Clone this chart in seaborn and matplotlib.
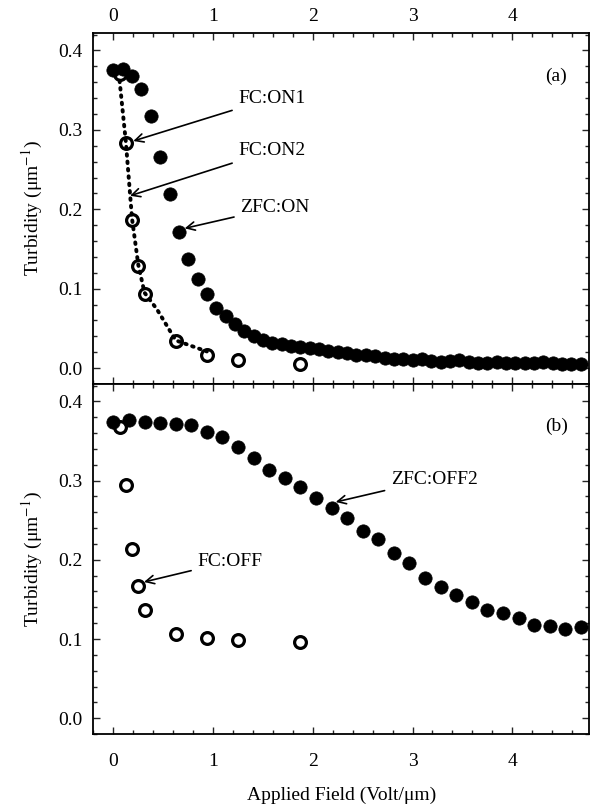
import numpy as np
import pandas as pd
import matplotlib
matplotlib.use("Agg")
from matplotlib import pyplot as plt
from matplotlib.ticker import MultipleLocator
import seaborn as sns

# %% Data
# panel (a) -- field switched on
zfc_on_x = [0.000, 0.094, 0.188, 0.281, 0.375, 0.469, 0.563, 0.656, 0.750, 0.844,
            0.938, 1.031, 1.125, 1.219, 1.313, 1.406, 1.500, 1.594, 1.688, 1.781,
            1.875, 1.969, 2.063, 2.156, 2.250, 2.344, 2.438, 2.531, 2.625, 2.719,
            2.813, 2.906, 3.000, 3.094, 3.188, 3.281, 3.375, 3.469, 3.563, 3.656,
            3.750, 3.844, 3.938, 4.031, 4.125, 4.219, 4.313, 4.406, 4.500, 4.594,
            4.688]
zfc_on_y = [0.375, 0.377, 0.368, 0.351, 0.317, 0.266, 0.219, 0.172, 0.138, 0.112,
            0.093, 0.076, 0.066, 0.055, 0.047, 0.041, 0.036, 0.032, 0.030, 0.028,
            0.027, 0.025, 0.024, 0.022, 0.020, 0.019, 0.017, 0.016, 0.015, 0.013,
            0.012, 0.011, 0.010, 0.011, 0.009, 0.008, 0.009, 0.010, 0.008, 0.007,
            0.007, 0.008, 0.006, 0.006, 0.006, 0.007, 0.008, 0.006, 0.005, 0.005,
            0.005]

fc_on1_x = [0.0625, 0.125, 0.1875, 0.25, 0.3125, 0.625, 0.9375, 1.25, 1.875]
fc_on1_y = [0.370, 0.283, 0.187, 0.129, 0.093, 0.034, 0.016, 0.010, 0.005]

fc_on2_x = [0.0625, 0.125, 0.1875, 0.25, 0.3125, 0.4375, 0.625, 0.9375]
fc_on2_y = [0.362, 0.285, 0.188, 0.130, 0.095, 0.074, 0.035, 0.021]

# panel (b) -- field switched off
zfc_off2_x = [0.000, 0.156, 0.313, 0.469, 0.625, 0.781, 0.938, 1.094, 1.250, 1.406,
              1.563, 1.719, 1.875, 2.031, 2.188, 2.344, 2.500, 2.656, 2.813, 2.969,
              3.125, 3.281, 3.438, 3.594, 3.750, 3.906, 4.063, 4.219, 4.375, 4.531,
              4.688]
zfc_off2_y = [0.374, 0.377, 0.374, 0.373, 0.372, 0.370, 0.362, 0.355, 0.343, 0.328,
              0.314, 0.303, 0.292, 0.278, 0.266, 0.253, 0.237, 0.226, 0.208, 0.196,
              0.177, 0.166, 0.155, 0.147, 0.136, 0.133, 0.127, 0.118, 0.116, 0.113,
              0.115]

fc_off_x = [0.0625, 0.125, 0.1875, 0.25, 0.3125, 0.625, 0.9375, 1.25, 1.875]
fc_off_y = [0.368, 0.295, 0.214, 0.167, 0.137, 0.106, 0.101, 0.099, 0.096]

x_ticks = [0, 1, 2, 3, 4]
y_ticks = [0.0, 0.1, 0.2, 0.3, 0.4]

FS = 14


# %% Functions
def style_axis(ax, top_labels=False, bottom_labels=False):
    ax.set_xlim(-0.2, 4.77)
    ax.set_ylim(-0.02, 0.422)
    ax.set_xticks(x_ticks)
    ax.set_yticks(y_ticks)
    ax.set_yticklabels(["{:.1f}".format(v) for v in y_ticks])
    ax.xaxis.set_minor_locator(MultipleLocator(0.2))
    ax.yaxis.set_minor_locator(MultipleLocator(0.02))
    ax.tick_params(which="both", direction="in", top=True, right=True,
                   labeltop=top_labels, labelbottom=bottom_labels,
                   width=1.0, labelsize=FS, labelcolor="black")
    ax.tick_params(which="major", length=5)
    ax.tick_params(which="minor", length=3)
    ax.tick_params(axis="y", pad=8)
    ax.tick_params(axis="x", pad=14 if bottom_labels else 6)
    for sp in ax.spines.values():
        sp.set_linewidth(1.3)
        sp.set_color("black")
    ax.set_xlabel("")
    ax.set_ylabel("Turbidity (μm$^{-1}$)", fontsize=FS, labelpad=9)


def arrow_label(ax, text, xy, xytext):
    ax.annotate(text, xy=xy, xytext=xytext, fontsize=FS, va="center", ha="left",
                arrowprops=dict(arrowstyle="->", color="black", lw=1.2,
                                shrinkA=2, shrinkB=0, mutation_scale=15))


def plot_on(ax):
    sns.scatterplot(x=fc_on1_x, y=fc_on1_y, ax=ax, s=72, facecolor="white",
                    edgecolor="black", linewidth=2.3, zorder=2)
    sns.lineplot(x=fc_on2_x, y=fc_on2_y, ax=ax, sort=False, color="black",
                 lw=2.8, linestyle=(0, (0.4, 1.5)), dash_capstyle="round", zorder=3)
    sns.scatterplot(x=zfc_on_x, y=zfc_on_y, ax=ax, s=92, color="black",
                    edgecolor="black", linewidth=0.5, zorder=4)
    arrow_label(ax, "FC:ON1", (0.20, 0.286), (1.25, 0.340))
    arrow_label(ax, "FC:ON2", (0.167, 0.217), (1.25, 0.274))
    arrow_label(ax, "ZFC:ON", (0.715, 0.176), (1.27, 0.202))
    ax.text(4.44, 0.368, "(a)", fontsize=FS, ha="center", va="center")


def plot_off(ax):
    sns.scatterplot(x=fc_off_x, y=fc_off_y, ax=ax, s=72, facecolor="white",
                    edgecolor="black", linewidth=2.3, zorder=2)
    sns.scatterplot(x=zfc_off2_x, y=zfc_off2_y, ax=ax, s=92, color="black",
                    edgecolor="black", linewidth=0.5, zorder=4)
    arrow_label(ax, "ZFC:OFF2", (2.23, 0.273), (2.78, 0.302))
    arrow_label(ax, "FC:OFF", (0.307, 0.172), (0.84, 0.198))
    ax.text(4.44, 0.369, "(b)", fontsize=FS, ha="center", va="center")


# %% Main
def main():
    sns.set_style("ticks")
    plt.rcParams["font.family"] = ["Liberation Serif", "DejaVu Serif"]
    plt.rcParams["mathtext.fontset"] = "stix"
    plt.rcParams["text.color"] = "black"
    plt.rcParams["axes.labelcolor"] = "black"

    fig = plt.figure(figsize=(5.95, 8.11), dpi=100)
    ax_a = fig.add_axes([0.157, 0.5265, 0.833, 0.4328])
    ax_b = fig.add_axes([0.157, 0.0949, 0.833, 0.4316])

    plot_on(ax_a)
    style_axis(ax_a, top_labels=True)
    plot_off(ax_b)
    style_axis(ax_b, bottom_labels=True)
    ax_b.set_xlabel("Applied Field (Volt/μm)", fontsize=FS, labelpad=12)

    fig.savefig("out.png", dpi=100)


# %% Run file
if __name__ == '__main__':
    main()
